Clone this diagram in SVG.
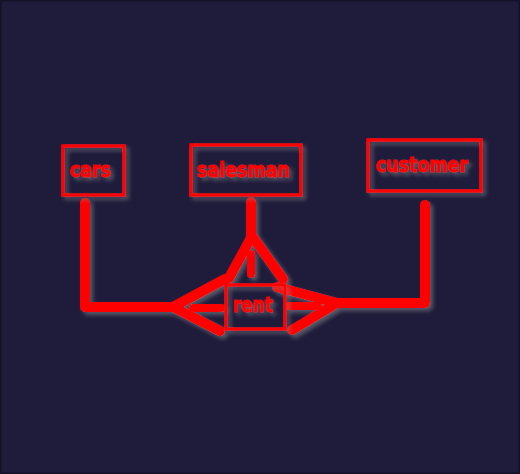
<svg xmlns="http://www.w3.org/2000/svg" width="520" height="474" viewBox="0 0 520 474">
<defs>
<filter id="sh" x="-30%" y="-30%" width="160%" height="160%">
<feDropShadow dx="3" dy="3" stdDeviation="2" flood-color="#8a8a8a" flood-opacity="0.55"/>
</filter>
<style>
.box{fill:none;stroke:#ff0000;stroke-width:3.5}
.lbl{fill:#ff0000;stroke:#ff0000;stroke-width:0.9;font-family:"DejaVu Sans Condensed","DejaVu Sans",sans-serif;font-weight:bold;font-size:21px;text-anchor:start}
.ln{fill:none;stroke:#ff0000;stroke-width:10;stroke-linecap:round;stroke-linejoin:round}
.toe{fill:none;stroke:#ff0000;stroke-width:8;stroke-linecap:round}
</style>
</defs>
<rect x="0.5" y="0.5" width="519" height="473" fill="#1e1b3b" stroke="#14122a" stroke-width="2"/>
<g id="connectors" filter="url(#sh)">
<polyline class="ln" points="85,203 85,307 173,307"/>
<polyline class="ln" points="225,279 173,307 220,331"/>
<line class="toe" x1="193" y1="308" x2="221" y2="308"/>
<line class="ln" x1="251" y1="202" x2="251" y2="236"/>
<polyline class="ln" points="229,278 252,236 283,279"/>
<line class="toe" x1="251" y1="254" x2="251" y2="274"/>
<polyline class="ln" points="425,205 425,303 337,303"/>
<polyline class="ln" points="277,287 337,303 292,330"/>
<line class="toe" x1="289" y1="306" x2="318" y2="306"/>
</g>
<g id="cars" filter="url(#sh)">
<rect class="box" x="63" y="146" width="61" height="49"/>
<text class="lbl" x="70" y="177" textLength="41" lengthAdjust="spacingAndGlyphs">cars</text>
</g>
<g id="salesman" filter="url(#sh)">
<rect class="box" x="191" y="145" width="110" height="50"/>
<text class="lbl" x="197" y="177" textLength="93" lengthAdjust="spacingAndGlyphs">salesman</text>
</g>
<g id="customer" filter="url(#sh)">
<rect class="box" x="368" y="140" width="113" height="51"/>
<text class="lbl" x="376" y="172" textLength="92" lengthAdjust="spacingAndGlyphs">customer</text>
</g>
<g id="rent" filter="url(#sh)">
<rect class="box" x="226" y="285" width="59" height="44"/>
<text class="lbl" x="233" y="312" textLength="40" lengthAdjust="spacingAndGlyphs">rent</text>
</g>
</svg>
